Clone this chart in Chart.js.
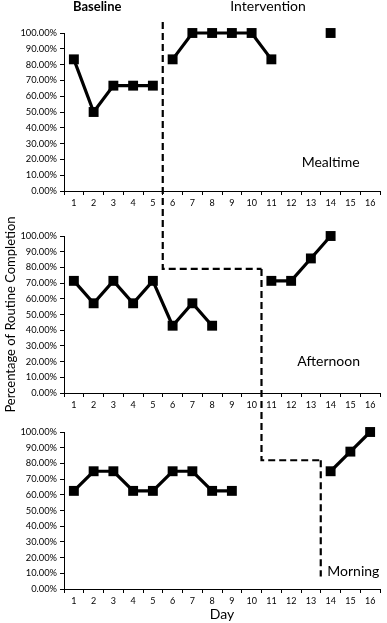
<!DOCTYPE html>
<html>
<head>
<meta charset="utf-8">
<script src="https://cdn.jsdelivr.net/npm/chart.js@4/dist/chart.umd.min.js"></script>
<style>
  html, body { margin: 0; padding: 0; background: #fff; }
  #wrap { position: relative; width: 387px; height: 623px; }
  #wrap canvas { position: absolute; left: 0; top: 0; }
</style>
</head>
<body>
<div id="wrap">
  <canvas id="c1" width="387" height="623"></canvas>
  <canvas id="c2" width="387" height="623"></canvas>
  <canvas id="c3" width="387" height="623"></canvas>
</div>
<script>
// ---- data ----
const days = ['1','2','3','4','5','6','7','8','9','10','11','12','13','14','15','16'];
const yTickValues = [0, 10, 20, 30, 40, 50, 60, 70, 80, 90, 100];

const mealBaseline      = [83.33, 50, 66.67, 66.67, 66.67, null, null, null, null, null, null, null, null, null, null, null];
const mealIntervention  = [null, null, null, null, null, 83.33, 100, 100, 100, 100, 83.33, null, null, 100, null, null];
const aftBaseline       = [71.43, 57.14, 71.43, 57.14, 71.43, 42.86, 57.14, 42.86, null, null, null, null, null, null, null, null];
const aftIntervention   = [null, null, null, null, null, null, null, null, null, null, 71.43, 71.43, 85.71, 100, null, null];
const mornBaseline      = [62.5, 75, 75, 62.5, 62.5, 75, 75, 62.5, 62.5, null, null, null, null, null, null, null];
const mornIntervention  = [null, null, null, null, null, null, null, null, null, null, null, null, null, 75, 87.5, 100];

const panelNames = ['Mealtime', 'Afternoon', 'Morning'];
const phaseNames = ['Baseline', 'Intervention'];
const yTitle = 'Percentage of Routine Completion';
const xTitle = 'Day';

// ---- layout ----
const W = 387, H = 623;
const FONT = 'Lato, "Open Sans", sans-serif';
const panels = [
  { id: 'c1', base: mealBaseline, inter: mealIntervention, top: 33,  bottom: 191, axisH: 20, label: panelNames[0], lx: 14.0, ly: 18 },
  { id: 'c2', base: aftBaseline,  inter: aftIntervention,  top: 236, bottom: 393, axisH: 20, label: panelNames[1], lx: 13.9, ly: 20 },
  { id: 'c3', base: mornBaseline, inter: mornIntervention, top: 432, bottom: 589, axisH: 34, label: panelNames[2], lx: 15.15, ly: 11 }
];

const charts = [];

function ds(data) {
  return {
    data: data,
    borderColor: '#000',
    backgroundColor: '#000',
    borderWidth: 3.2,
    pointStyle: 'rect',
    pointRadius: 7,
    pointHoverRadius: 7,
    pointBorderWidth: 0,
    spanGaps: false,
    tension: 0,
    clip: false
  };
}

const labelPlugin = {
  id: 'panelLabel',
  afterDraw(chart, args, opts) {
    const ctx = chart.ctx;
    const x = chart.scales.x, y = chart.scales.y;
    ctx.save();
    ctx.fillStyle = '#000';
    ctx.font = '14px ' + FONT;
    ctx.textAlign = 'center';
    ctx.textBaseline = 'middle';
    ctx.fillText(opts.text, x.getPixelForValue(opts.lx - 1), y.getPixelForValue(opts.ly));
    ctx.restore();
  }
};

const overlayPlugin = {
  id: 'phaseOverlay',
  afterDraw(chart) {
    const [a, b, c] = charts.concat([chart]);
    const ctx = chart.ctx;
    ctx.save();
    // phase headers
    ctx.fillStyle = '#000';
    ctx.textAlign = 'center';
    ctx.textBaseline = 'middle';
    ctx.font = 'bold 13px ' + FONT;
    ctx.fillText(phaseNames[0], a.scales.x.getPixelForValue(1.18), 7);
    ctx.font = '14px ' + FONT;
    ctx.fillText(phaseNames[1], a.scales.x.getPixelForValue(9.83), 6);
    // dashed phase change lines
    const p1 = a.scales.x.getPixelForValue(4.5);
    const p2 = b.scales.x.getPixelForValue(9.5);
    const p3 = c.scales.x.getPixelForValue(12.5);
    const yTop = a.scales.y.getPixelForValue(107);
    const yB = b.scales.y.getPixelForValue(79);
    const yC = c.scales.y.getPixelForValue(82);
    const yEnd = c.scales.y.getPixelForValue(8);
    ctx.strokeStyle = '#000';
    ctx.lineWidth = 2.2;
    ctx.setLineDash([7, 4]);
    ctx.beginPath();
    ctx.moveTo(p1, yTop); ctx.lineTo(p1, yB); ctx.lineTo(p2, yB);
    ctx.stroke();
    ctx.beginPath();
    ctx.moveTo(p2, yB); ctx.lineTo(p2, yC); ctx.lineTo(p3, yC);
    ctx.stroke();
    ctx.beginPath();
    ctx.moveTo(p3, yC); ctx.lineTo(p3, yEnd);
    ctx.stroke();
    ctx.restore();
  }
};

panels.forEach((p, i) => {
  const isLast = i === panels.length - 1;
  const isMid = i === 1;
  const cfg = {
    type: 'line',
    data: { labels: days, datasets: [ds(p.base), ds(p.inter)] },
    options: {
      responsive: false,
      animation: false,
      devicePixelRatio: 1,
      events: [],
      layout: { padding: { left: 0, right: 4, top: p.top, bottom: H - p.bottom - p.axisH } },
      plugins: {
        legend: { display: false },
        tooltip: { enabled: false },
        panelLabel: { text: p.label, lx: p.lx, ly: p.ly }
      },
      scales: {
        x: {
          type: 'category',
          offset: true,
          afterFit: (s) => { s.height = p.axisH; },
          grid: { offset: true, drawOnChartArea: false, drawTicks: true, tickLength: 4, color: '#000', lineWidth: 1 },
          border: { color: '#000', width: 1 },
          ticks: { color: '#000', font: { family: FONT, size: 9 }, padding: 3, maxRotation: 0, autoSkip: false },
          title: { display: isLast, text: xTitle, color: '#000', font: { family: FONT, size: 14 }, padding: 0 }
        },
        y: {
          min: 0, max: 100,
          afterFit: (s) => { s.width = 64; },
          afterBuildTicks: (s) => { s.ticks = yTickValues.map(v => ({ value: v })); },
          grid: { drawOnChartArea: false, drawTicks: true, tickLength: 4, color: '#000', lineWidth: 1 },
          border: { color: '#000', width: 1 },
          ticks: { color: '#000', font: { family: FONT, size: 9.3 }, padding: 3, callback: (v) => Number(v).toFixed(2) + '%' },
          title: { display: isMid, text: yTitle, color: '#000', font: { family: FONT, size: 13 }, padding: { top: 3, bottom: 0 } }
        }
      }
    },
    plugins: isLast ? [labelPlugin, overlayPlugin] : [labelPlugin]
  };
  const ch = new Chart(document.getElementById(p.id), cfg);
  if (!isLast) charts.push(ch);
});
</script>
</body>
</html>
